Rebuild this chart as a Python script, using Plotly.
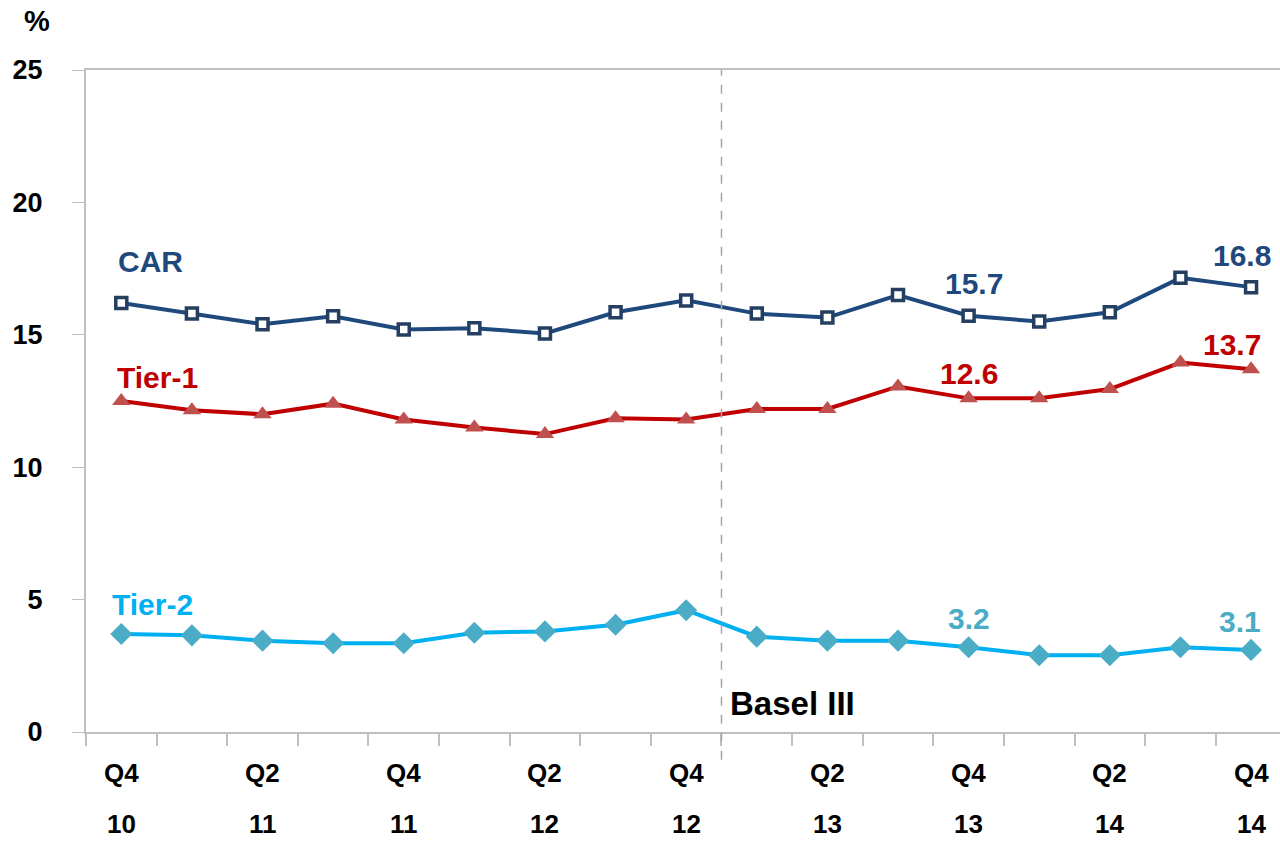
import plotly.graph_objects as go

quarters = ["Q4", "Q1", "Q2", "Q3", "Q4", "Q1", "Q2", "Q3", "Q4",
            "Q1", "Q2", "Q3", "Q4", "Q1", "Q2", "Q3", "Q4"]
years = ["10", "11", "11", "11", "11", "12", "12", "12", "12",
         "13", "13", "13", "13", "14", "14", "14", "14"]
car = [16.2, 15.8, 15.4, 15.7, 15.2, 15.25, 15.05, 15.85, 16.3,
       15.8, 15.65, 16.5, 15.72, 15.5, 15.85, 17.15, 16.8]
tier1 = [12.5, 12.15, 12.0, 12.4, 11.8, 11.5, 11.25, 11.85, 11.8,
         12.2, 12.2, 13.05, 12.6, 12.6, 12.95, 13.95, 13.7]
tier2 = [3.7, 3.65, 3.45, 3.35, 3.35, 3.75, 3.8, 4.05, 4.6,
         3.6, 3.45, 3.45, 3.2, 2.9, 2.9, 3.2, 3.1]
label_idx = [12, 16]
basel_pos = 8.5

x = list(range(len(quarters)))
FONT = "Arial, Liberation Sans, sans-serif"

fig = go.Figure()
fig.add_trace(go.Scatter(x=x, y=car, mode="lines+markers",
                         line=dict(color="#1F497D", width=4),
                         marker=dict(symbol="square", size=11, color="white",
                                     line=dict(color="#243F60", width=3.5))))
fig.add_trace(go.Scatter(x=x, y=tier1, mode="lines+markers",
                         line=dict(color="#C00000", width=4),
                         marker=dict(symbol="triangle-up", size=16, color="#C0504D")))
fig.add_trace(go.Scatter(x=x, y=tier2, mode="lines+markers",
                         line=dict(color="#00B0F0", width=4),
                         marker=dict(symbol="diamond", size=17, color="#4BACC6")))

bold = lambda s: "<b>" + s + "</b>"
ann = []
for i in range(0, len(quarters), 2):
    ann.append(dict(x=i, y=-0.062, xref="x", yref="paper", text=bold(quarters[i]), showarrow=False,
                    font=dict(family=FONT, size=26, color="black"), yanchor="middle"))
    ann.append(dict(x=i, y=-0.139, xref="x", yref="paper", text=bold(years[i]), showarrow=False,
                    font=dict(family=FONT, size=26, color="black"), yanchor="middle"))
ann.append(dict(x=0.41, y=17.75, xref="x", yref="y", text=bold("CAR"), showarrow=False,
                font=dict(family=FONT, size=30, color="#1F497D")))
ann.append(dict(x=0.51, y=13.4, xref="x", yref="y", text=bold("Tier-1"), showarrow=False,
                font=dict(family=FONT, size=30, color="#C00000")))
ann.append(dict(x=0.44, y=4.8, xref="x", yref="y", text=bold("Tier-2"), showarrow=False,
                font=dict(family=FONT, size=30, color="#00B0F0")))
for k, i in enumerate(label_idx):
    dx = 0.08 if k == 0 else -0.13
    ann.append(dict(x=i + dx, y=car[i] + 1.2, xref="x", yref="y", text=bold("%.1f" % car[i]),
                    showarrow=False, font=dict(family=FONT, size=30, color="#1F497D")))
    ann.append(dict(x=i + (0.0 if k == 0 else -0.27), y=tier1[i] + 0.95, xref="x", yref="y",
                    text=bold("%.1f" % tier1[i]),
                    showarrow=False, font=dict(family=FONT, size=30, color="#C00000")))
    ann.append(dict(x=i + (0.0 if k == 0 else -0.15), y=tier2[i] + 1.08, xref="x", yref="y",
                    text=bold("%.1f" % tier2[i]),
                    showarrow=False, font=dict(family=FONT, size=30, color="#4BACC6")))
ann.append(dict(x=basel_pos + 0.09, y=1.06, xref="x", yref="y", text=bold("Basel III"),
                showarrow=False, xanchor="left",
                font=dict(family=FONT, size=33, color="black")))
ann.append(dict(x=-0.054, y=1.101, xref="paper", yref="paper", text=bold("%"), showarrow=False,
                font=dict(family=FONT, size=29, color="black")))

fig.add_shape(type="line", x0=basel_pos, x1=basel_pos, y0=-0.042, y1=1, xref="x", yref="paper",
              line=dict(color="#A6A6A6", width=1.5, dash="dash"))

fig.update_layout(
    width=1280, height=841,
    margin=dict(l=86, r=0, t=70, b=109),
    plot_bgcolor="white", paper_bgcolor="white",
    showlegend=False,
    annotations=ann,
    font=dict(family=FONT),
)
fig.update_xaxes(range=[-0.5, 16.41], showgrid=False, zeroline=False,
                 showline=True, linecolor="#BFBFBF", linewidth=2, mirror=True,
                 tickmode="array", tickvals=[i + 0.5 for i in range(-1, 16)],
                 ticktext=[""] * 17, ticks="outside", ticklen=12, tickwidth=2,
                 tickcolor="#BFBFBF")
fig.update_yaxes(range=[0, 25], showgrid=False, zeroline=False,
                 showline=True, linecolor="#BFBFBF", linewidth=2,
                 tickvals=[0, 5, 10, 15, 20, 25], ticks="outside", ticklen=12,
                 tickwidth=1, tickcolor="#BFBFBF", ticklabelstandoff=24,
                 tickfont=dict(family=FONT, size=27, color="black", weight="bold"))
fig.write_html("out.html")
